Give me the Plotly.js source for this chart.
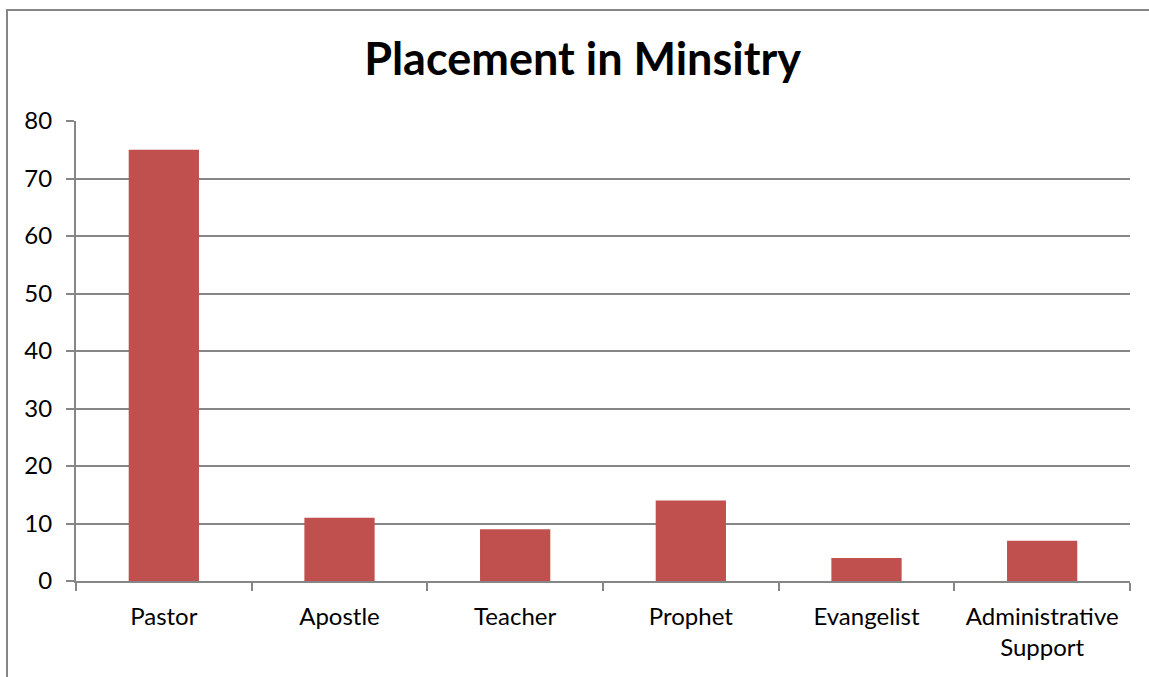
<!DOCTYPE html>
<html>
<head>
<meta charset="utf-8">
<script src="https://cdn.plot.ly/plotly-3.0.1.min.js"></script>
<style>
    body { margin: 0; background: #fff; }
    #frame { position: absolute; left: 6px; top: 9px; width: 1200px; height: 720px;
             border-left: 2px solid #868686; border-top: 2px solid #868686; }
    #chart { position: absolute; left: 0; top: 0; width: 1149px; height: 677px; }
</style>
</head>
<body>
<div id="frame"></div>
<div id="chart"></div>
<script>
var categories = ['Pastor', 'Apostle', 'Teacher', 'Prophet', 'Evangelist', 'Administrative<br>Support'];
var counts = [75, 11, 9, 14, 4, 7];
var yTicks = [0, 10, 20, 30, 40, 50, 60, 70, 80];

var chartDiv = document.getElementById('chart');

function drawPlacementChart() {
    let barData = {
        x: categories,
        y: counts,
        type: 'bar',
        marker: {color: '#C0504D'},
        hoverinfo: 'x+y'
    };

    let layout = {
        title: {
            text: '<b>Placement in Minsitry</b>',
            font: {family: 'Lato, sans-serif', size: 45, color: '#000'},
            x: 0.507,
            xref: 'container',
            xanchor: 'center',
            y: 0.912,
            yref: 'container',
            yanchor: 'middle'
        },
        font: {family: 'Lato, sans-serif', size: 24, color: '#000'},
        width: 1149,
        height: 677,
        margin: {t: 121, r: 19, b: 96, l: 76},
        paper_bgcolor: 'rgba(0,0,0,0)',
        plot_bgcolor: 'rgba(0,0,0,0)',
        bargap: 0.6,
        showlegend: false,
        xaxis: {
            type: 'category',
            showgrid: false,
            showline: true,
            linecolor: '#868686',
            linewidth: 2,
            ticks: 'outside',
            tickson: 'boundaries',
            ticklen: 8,
            tickwidth: 2,
            tickcolor: '#868686',
            ticklabelstandoff: 13,
            tickfont: {size: 24, color: '#000'}
        },
        yaxis: {
            range: [0, 80],
            tickvals: yTicks,
            showgrid: true,
            gridcolor: '#868686',
            gridwidth: 2,
            showline: true,
            linecolor: '#868686',
            linewidth: 2,
            ticks: 'outside',
            ticklen: 8,
            tickwidth: 2,
            tickcolor: '#868686',
            ticklabelstandoff: 9,
            zeroline: false,
            tickfont: {size: 24, color: '#000'}
        }
    };
    Plotly.newPlot(chartDiv, [barData], layout, {displayModeBar: false});
}

drawPlacementChart();
</script>
</body>
</html>
